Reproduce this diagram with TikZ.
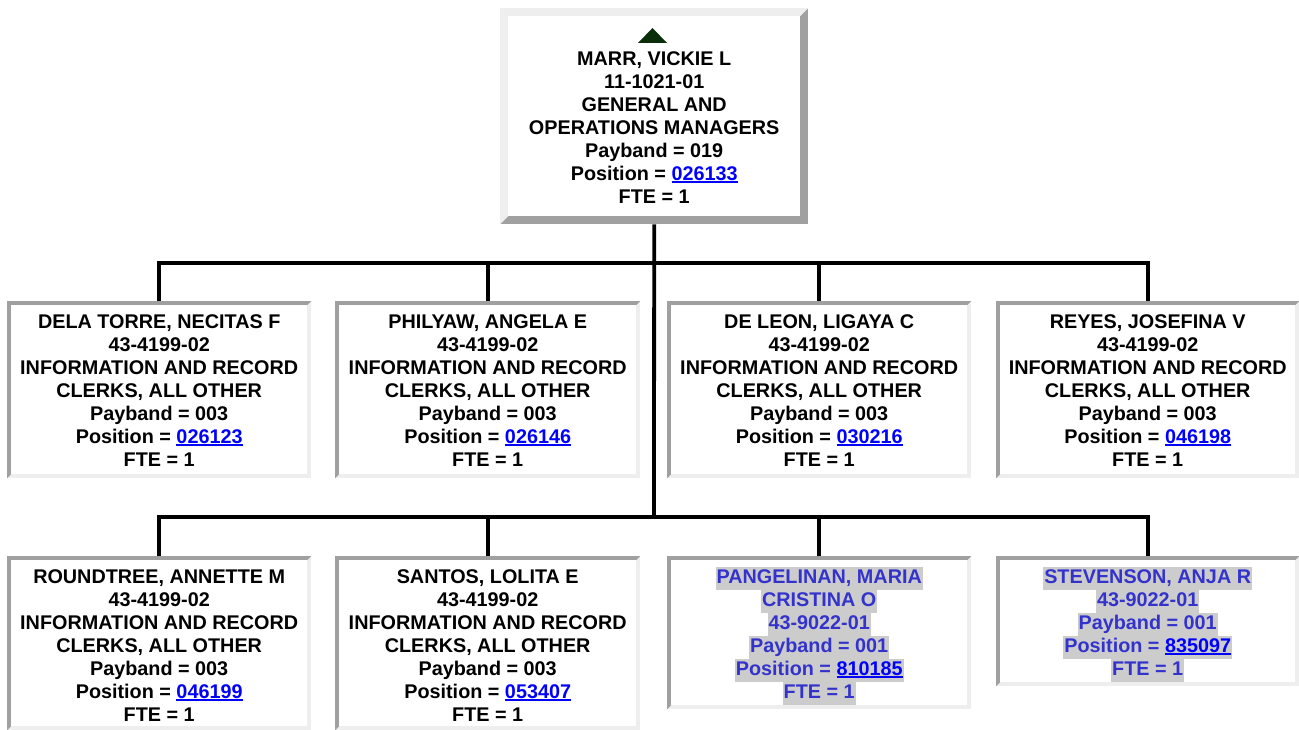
\documentclass[tikz,border=0pt]{standalone}
\usepackage{fontspec}
\setmainfont{Liberation Sans}
\usetikzlibrary{calc}
\definecolor{dkb}{HTML}{A0A0A0}
\definecolor{ltb}{HTML}{EEEEEE}
\definecolor{hlgray}{HTML}{CCCCCC}
\definecolor{hltext}{HTML}{3333CC}
\definecolor{linkblue}{HTML}{0000FF}
\definecolor{trig}{HTML}{0A2E0A}
\setlength\fboxsep{0pt}
\newcommand\orgstrut{\rule[-6.5pt]{0pt}{23pt}}
\newcommand\orglink[1]{\textcolor{linkblue}{\setbox0=\hbox{#1}\rlap{\rule[-3pt]{\wd0}{1.8pt}}\box0}}
\newcommand\orghl[1]{\colorbox{hlgray}{\kern1pt\orgstrut#1\kern1pt}}
\newcommand\clerk[2]{\orgstrut #1\\\orgstrut 43-4199-02\\\orgstrut INFORMATION AND RECORD\\\orgstrut CLERKS, ALL OTHER\\\orgstrut Payband = 003\\\orgstrut Position = \orglink{#2}\\\orgstrut FTE = 1}
\begin{document}
\begin{tikzpicture}[x=1pt,y=-1pt,
  outset/.style n args={3}{fill=#3, draw=none, inner sep=0pt,
    path picture={
      \fill[#2] (path picture bounding box.north west) -- (path picture bounding box.north east)
        -- ([xshift=-#1,yshift=-#1]path picture bounding box.north east)
        -- ([xshift=#1,yshift=-#1]path picture bounding box.north west)
        -- ([xshift=#1,yshift=#1]path picture bounding box.south west)
        -- (path picture bounding box.south west) -- cycle;
      \fill[white] ([xshift=#1,yshift=-#1]path picture bounding box.north west)
        rectangle ([xshift=-#1,yshift=#1]path picture bounding box.south east);
    }},
  box/.style={rectangle, anchor=north west, outset={4pt}{dkb}{ltb}},
  txt/.style={anchor=north, inner sep=0pt, align=center,
    font=\fontsize{19.8}{23}\selectfont\bfseries},
  conn/.style={draw=black, line width=3.8pt, line join=miter}
]
\useasboundingbox[fill=white] (0,0) rectangle (1299,730);

% boxes
\node[rectangle, anchor=north west, outset={8pt}{ltb}{dkb},
      minimum width=308pt, minimum height=216pt] (top) at (500,8) {};
\node[box, minimum width=304pt, minimum height=177pt] (c1) at (7,301) {};
\node[box, minimum width=305pt, minimum height=177pt] (c2) at (335,301) {};
\node[box, minimum width=304pt, minimum height=177pt] (c3) at (667,301) {};
\node[box, minimum width=303pt, minimum height=177pt] (c4) at (996,301) {};
\node[box, minimum width=304pt, minimum height=174pt] (c5) at (7,556) {};
\node[box, minimum width=305pt, minimum height=174pt] (c6) at (335,556) {};
\node[box, minimum width=304pt, minimum height=153pt] (c7) at (667,556) {};
\node[box, minimum width=303pt, minimum height=130pt] (c8) at (996,556) {};

% connectors
\coordinate (j1) at (654,263);
\coordinate (j2) at (654,517);
\draw[conn] (top.south) -- (j2);
\draw[conn] (c1.north) |- (j1) -| (c4.north);
\draw[conn] (c2.north) -- (c2.north |- j1);
\draw[conn] (c3.north) -- (c3.north |- j1);
\draw[conn] (c5.north) |- (j2) -| (c8.north);
\draw[conn] (c6.north) -- (c6.north |- j2);
\draw[conn] (c7.north) -- (c7.north |- j2);

% triangle marker
\fill[trig] (652.5,28) -- (667,43) -- (638,43) -- cycle;

% texts
\node[txt] (tt) at ($(top.north)+(0,40.5)$) {\orgstrut MARR, VICKIE L\\\orgstrut 11-1021-01\\\orgstrut GENERAL AND\\\orgstrut OPERATIONS MANAGERS\\\orgstrut Payband = 019\\\orgstrut Position = \orglink{026133}\\\orgstrut FTE = 1};
\node[txt] (t1) at ($(c1.north)+(0,10.5)$) {\clerk{DELA TORRE, NECITAS F}{026123}};
\node[txt] (t2) at ($(c2.north)+(0,10.5)$) {\clerk{PHILYAW, ANGELA E}{026146}};
\node[txt] (t3) at ($(c3.north)+(0,10.5)$) {\clerk{DE LEON, LIGAYA C}{030216}};
\node[txt] (t4) at ($(c4.north)+(0,10.5)$) {\clerk{REYES, JOSEFINA V}{046198}};
\node[txt] (t5) at ($(c5.north)+(0,10.5)$) {\clerk{ROUNDTREE, ANNETTE M}{046199}};
\node[txt] (t6) at ($(c6.north)+(0,10.5)$) {\clerk{SANTOS, LOLITA E}{053407}};
\node[txt, text=hltext] (t7) at ($(c7.north)+(0,10.5)$) {\orghl{PANGELINAN, MARIA}\\\orghl{CRISTINA O}\\\orghl{43-9022-01}\\\orghl{Payband = 001}\\\orghl{Position = \orglink{810185}}\\\orghl{FTE = 1}};
\node[txt, text=hltext] (t8) at ($(c8.north)+(0,10.5)$) {\orghl{STEVENSON, ANJA R}\\\orghl{43-9022-01}\\\orghl{Payband = 001}\\\orghl{Position = \orglink{835097}}\\\orghl{FTE = 1}};
\end{tikzpicture}
\end{document}
